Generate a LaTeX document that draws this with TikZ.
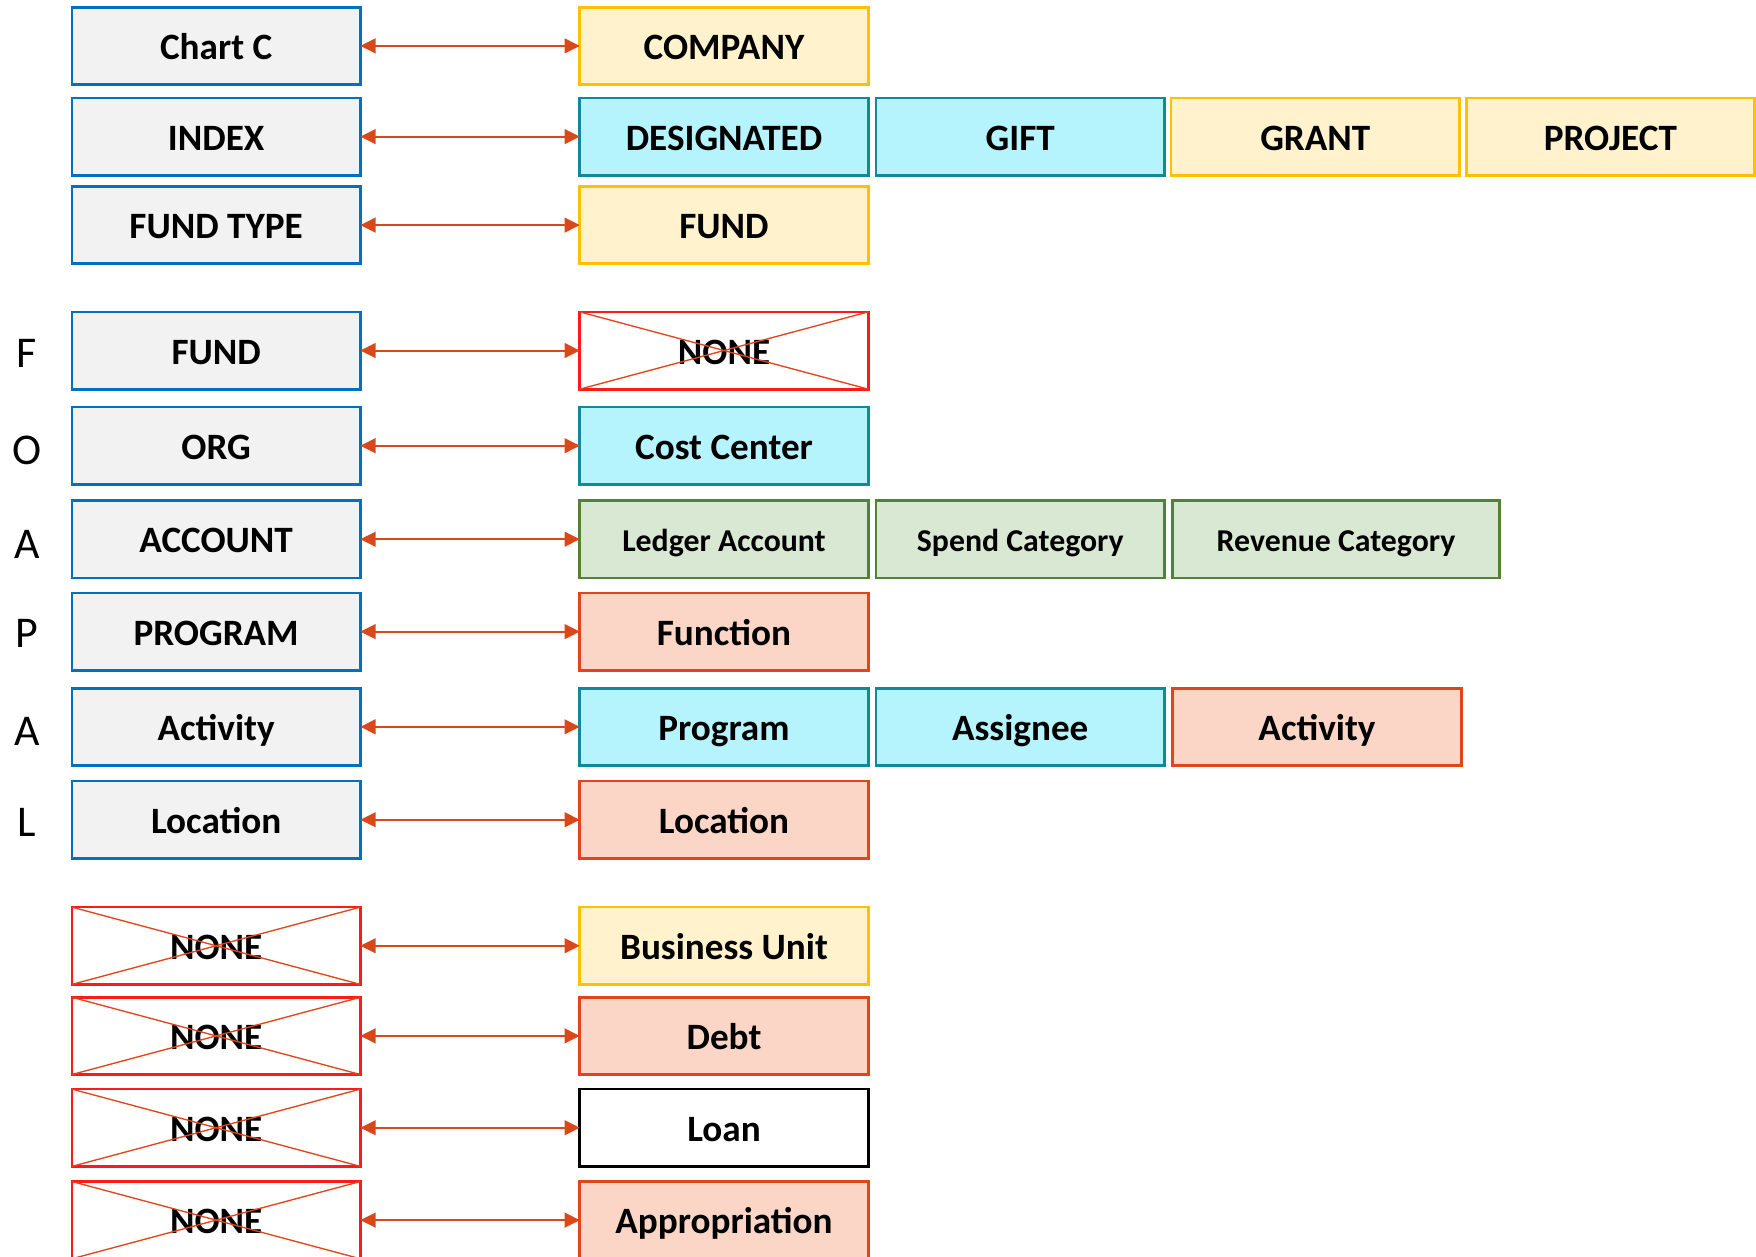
\documentclass[tikz,border=0pt]{standalone}
\usepackage{fontspec}
\setmainfont{Carlito}
\usetikzlibrary{arrows.meta}
\definecolor{lgray}{HTML}{F2F2F2}
\definecolor{lblue}{HTML}{0070C0}
\definecolor{yfill}{HTML}{FFF2CC}
\definecolor{ydraw}{HTML}{FFC000}
\definecolor{cfill}{HTML}{B5F3FD}
\definecolor{cdraw}{HTML}{12899B}
\definecolor{gfill}{HTML}{D9E8D3}
\definecolor{gdraw}{HTML}{548235}
\definecolor{sfill}{HTML}{FBD5C6}
\definecolor{sdraw}{HTML}{E0461A}
\definecolor{arrc}{HTML}{D9481A}
\definecolor{xred}{HTML}{FF1A1A}
\begin{document}
\begin{tikzpicture}[x=0.5pt,y=-0.5pt,
  box/.style={rectangle, minimum width=128.8pt, minimum height=34.5pt, inner sep=0pt, outer sep=0pt,
    line width=1.2pt, font=\fontsize{16.6}{19}\selectfont\bfseries, text height=12.2pt, text depth=0pt},
  lbox/.style={box, fill=lgray, draw=lblue},
  ybox/.style={box, fill=yfill, draw=ydraw},
  cbox/.style={box, fill=cfill, draw=cdraw},
  gbox/.style={box, fill=gfill, draw=gdraw, font=\fontsize{14.2}{16}\selectfont\bfseries, text height=10.6pt},
  sbox/.style={box, fill=sfill, draw=sdraw},
  nbox/.style={box, fill=white, draw=xred},
  kbox/.style={box, fill=white, draw=black},
  xline/.style={draw=sdraw, line width=0.6pt},
  conn/.style={draw=arrc, line width=0.9pt, {Triangle[length=6.8pt,width=6.6pt]}-{Triangle[length=6.8pt,width=6.6pt]}},
  letter/.style={font=\fontsize{19.6}{22}\selectfont, inner sep=0pt, text depth=0pt}
]
\useasboundingbox (0,0) rectangle (1568,1122);

% left column
\node[lbox] (l1) at (193,41) {Chart C};
\node[lbox] (l2) at (193,122) {INDEX};
\node[lbox] (l3) at (193,201) {FUND TYPE};
\node[lbox] (l4) at (193,313) {FUND};
\node[lbox] (l5) at (193,398) {ORG};
\node[lbox] (l6) at (193,481.5) {ACCOUNT};
\node[lbox] (l7) at (193,564) {PROGRAM};
\node[lbox] (l8) at (193,649) {Activity};
\node[lbox] (l9) at (193,732) {Location};
\node[nbox] (l10) at (193,844.5) {NONE};
\node[nbox] (l11) at (193,925) {NONE};
\node[nbox] (l12) at (193,1007) {NONE};
\node[nbox] (l13) at (193,1089.5) {NONE};

% right side
\node[ybox] (r1) at (646.5,41) {COMPANY};
\node[cbox] (r2a) at (646.5,122) {DESIGNATED};
\node[cbox] (r2b) at (911,122) {GIFT};
\node[ybox] (r2c) at (1174.5,122) {GRANT};
\node[ybox] (r2d) at (1438,122) {PROJECT};
\node[ybox] (r3) at (646.5,201) {FUND};
\node[nbox] (r4) at (646.5,313) {NONE};
\node[cbox] (r5) at (646.5,398) {Cost Center};
\node[gbox] (r6a) at (646.5,481.5) {Ledger Account};
\node[gbox] (r6b) at (911,481.5) {Spend Category};
\node[gbox, minimum width=146pt] (r6c) at (1193,481.5) {Revenue Category};
\node[sbox] (r7) at (646.5,564) {Function};
\node[cbox] (r8a) at (646.5,649) {Program};
\node[cbox] (r8b) at (911,649) {Assignee};
\node[sbox] (r8c) at (1176,649) {Activity};
\node[sbox] (r9) at (646.5,732) {Location};
\node[ybox] (r10) at (646.5,844.5) {Business Unit};
\node[sbox] (r11) at (646.5,925) {Debt};
\node[kbox] (r12) at (646.5,1007) {Loan};
\node[sbox] (r13) at (646.5,1089.5) {Appropriation};

% crosses on NONE boxes
\foreach \n in {r4,l10,l11,l12,l13}{
  \draw[xline] (\n.north west) -- (\n.south east);
  \draw[xline] (\n.south west) -- (\n.north east);
}

% connectors
\draw[conn] (l1.east) -- (r1.west);
\draw[conn] (l2.east) -- (r2a.west);
\draw[conn] (l3.east) -- (r3.west);
\draw[conn] (l4.east) -- (r4.west);
\draw[conn] (l5.east) -- (r5.west);
\draw[conn] (l6.east) -- (r6a.west);
\draw[conn] (l7.east) -- (r7.west);
\draw[conn] (l8.east) -- (r8a.west);
\draw[conn] (l9.east) -- (r9.west);
\draw[conn] (l10.east) -- (r10.west);
\draw[conn] (l11.east) -- (r11.west);
\draw[conn] (l12.east) -- (r12.west);
\draw[conn] (l13.east) -- (r13.west);

% FOAPAL letters
\node[letter] (tF) at (24,316) {F};
\node[letter] (tO) at (24,402) {O};
\node[letter] (tA1) at (24,486) {A};
\node[letter] (tP) at (24,566) {P};
\node[letter] (tA2) at (24,653) {A};
\node[letter] (tL) at (24,734) {L};
\end{tikzpicture}
\end{document}
